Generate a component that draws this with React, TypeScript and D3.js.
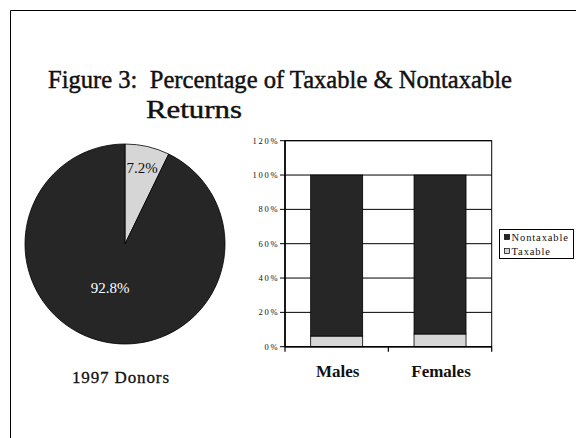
import React from "react";
import * as d3 from "d3";

const pieLabels = ["Taxable", "Nontaxable"];
const pieValues = [7.2, 92.8];
const categories = ["Males", "Females"];
const taxable = [6.2, 7.4];
const nontaxable = [93.8, 92.6];
const seriesNames = ["Nontaxable", "Taxable"];
const yTicks = [0, 20, 40, 60, 80, 100, 120];

const DARK = "#262626";
const LIGHT = "#d6d6d6";
const SERIF = "'Liberation Serif', 'DejaVu Serif', serif";

export default function App() {
  const W = 576, H = 438;
  // pie
  const cx = 125, cy = 244, r = 100;
  const pieGen = d3.pie<number>().sort(null).value((d) => d);
  const arcs = pieGen(pieValues);
  const arcGen = d3.arc<d3.PieArcDatum<number>>().innerRadius(0).outerRadius(r);

  // bars
  const px0 = 285, px1 = 491.7, py0 = 346.7, py1 = 140.7;
  const x = d3.scaleBand<string>().domain(categories).range([px0, px1]).paddingInner(0).paddingOuter(0);
  const y = d3.scaleLinear().domain([0, 120]).range([py0, py1]);
  const barW = 52;

  return (
    <svg width={W} height={H} style={{ position: "absolute", left: 0, top: 0, background: "#fff" }}>
      <rect x={0} y={0} width={W} height={H} fill="#fff" />
      <line x1={10.5} y1={10.5} x2={576} y2={10.5} stroke="#000" strokeWidth={1} />
      <line x1={10.5} y1={10.5} x2={10.5} y2={438} stroke="#000" strokeWidth={1} />

      <text x={48} y={88} fontFamily={SERIF} fontSize={25} fill="#111" stroke="#111" strokeWidth={0.45}
        xmlSpace="preserve" textLength={464} lengthAdjust="spacingAndGlyphs">
        {"Figure 3:  Percentage of Taxable & Nontaxable"}
      </text>
      <text x={146} y={118} fontFamily={SERIF} fontSize={26} fill="#111" stroke="#111" strokeWidth={0.45}
        textLength={96} lengthAdjust="spacingAndGlyphs">Returns</text>

      <g transform={`translate(${cx},${cy})`}>
        {arcs.map((a, i) => (
          <path key={pieLabels[i]} d={arcGen(a) || ""} fill={i === 0 ? LIGHT : DARK} stroke="#000" strokeWidth={0.8} />
        ))}
      </g>
      <text x={142} y={173} textAnchor="middle" fontFamily={SERIF} fontSize={15} fill="#111">
        {pieValues[0].toFixed(1) + "%"}
      </text>
      <text x={110} y={293} textAnchor="middle" fontFamily={SERIF} fontSize={15} fill="#fff">
        {pieValues[1].toFixed(1) + "%"}
      </text>
      <text x={72} y={383} fontFamily={SERIF} fontSize={17} fill="#111" stroke="#111" strokeWidth={0.3}
        textLength={97} lengthAdjust="spacing">1997 Donors</text>

      {/* plot area */}
      <rect x={px0} y={py1} width={px1 - px0} height={py0 - py1} fill="#fff" stroke="#000" strokeWidth={1} />
      {yTicks.map((t) => (
        <g key={t}>
          <line x1={px0 - 5} x2={px1} y1={y(t)} y2={y(t)} stroke="#000" strokeWidth={1} />
          <text x={279.5} y={y(t) + 3} textAnchor="end" fontFamily={SERIF} fontSize={8.5} letterSpacing={1.8} fill="#111">{t + "%"}</text>
        </g>
      ))}
      {categories.map((c, i) => {
        const bx = (x(c) as number) + x.bandwidth() / 2 - barW / 2;
        return (
          <g key={c}>
            <rect x={bx} y={y(taxable[i])} width={barW} height={y(0) - y(taxable[i])} fill={LIGHT} stroke="#000" strokeWidth={0.8} />
            <rect x={bx} y={y(taxable[i] + nontaxable[i])} width={barW} height={y(taxable[i]) - y(taxable[i] + nontaxable[i])} fill={DARK} stroke="#000" strokeWidth={0.8} />
            <text x={(x(c) as number) + x.bandwidth() / 2 + 1} y={377} textAnchor="middle" fontFamily={SERIF} fontWeight="bold" fontSize={17} fill="#111">{c}</text>
          </g>
        );
      })}
      <line x1={px0} x2={px0} y1={py1} y2={py0} stroke="#000" strokeWidth={1.6} />
      <line x1={px0} x2={px1} y1={py0} y2={py0} stroke="#000" strokeWidth={1.6} />
      {[px0, px0 + x.bandwidth(), px1].map((tx, i) => (
        <line key={i} x1={tx} x2={tx} y1={py0} y2={py0 + 5} stroke="#000" strokeWidth={1.2} />
      ))}

      {/* legend */}
      <rect x={499.5} y={229.5} width={74} height={29} fill="#fff" stroke="#000" strokeWidth={1} />
      {seriesNames.map((s, i) => (
        <g key={s}>
          <rect x={504.5} y={234.5 + i * 14} width={5} height={5} fill={i === 0 ? DARK : LIGHT} stroke="#000" strokeWidth={0.7} />
          <text x={511.5} y={240.5 + i * 14} fontFamily={SERIF} fontSize={10.5} letterSpacing={0.9} fill="#111">{s}</text>
        </g>
      ))}
    </svg>
  );
}
